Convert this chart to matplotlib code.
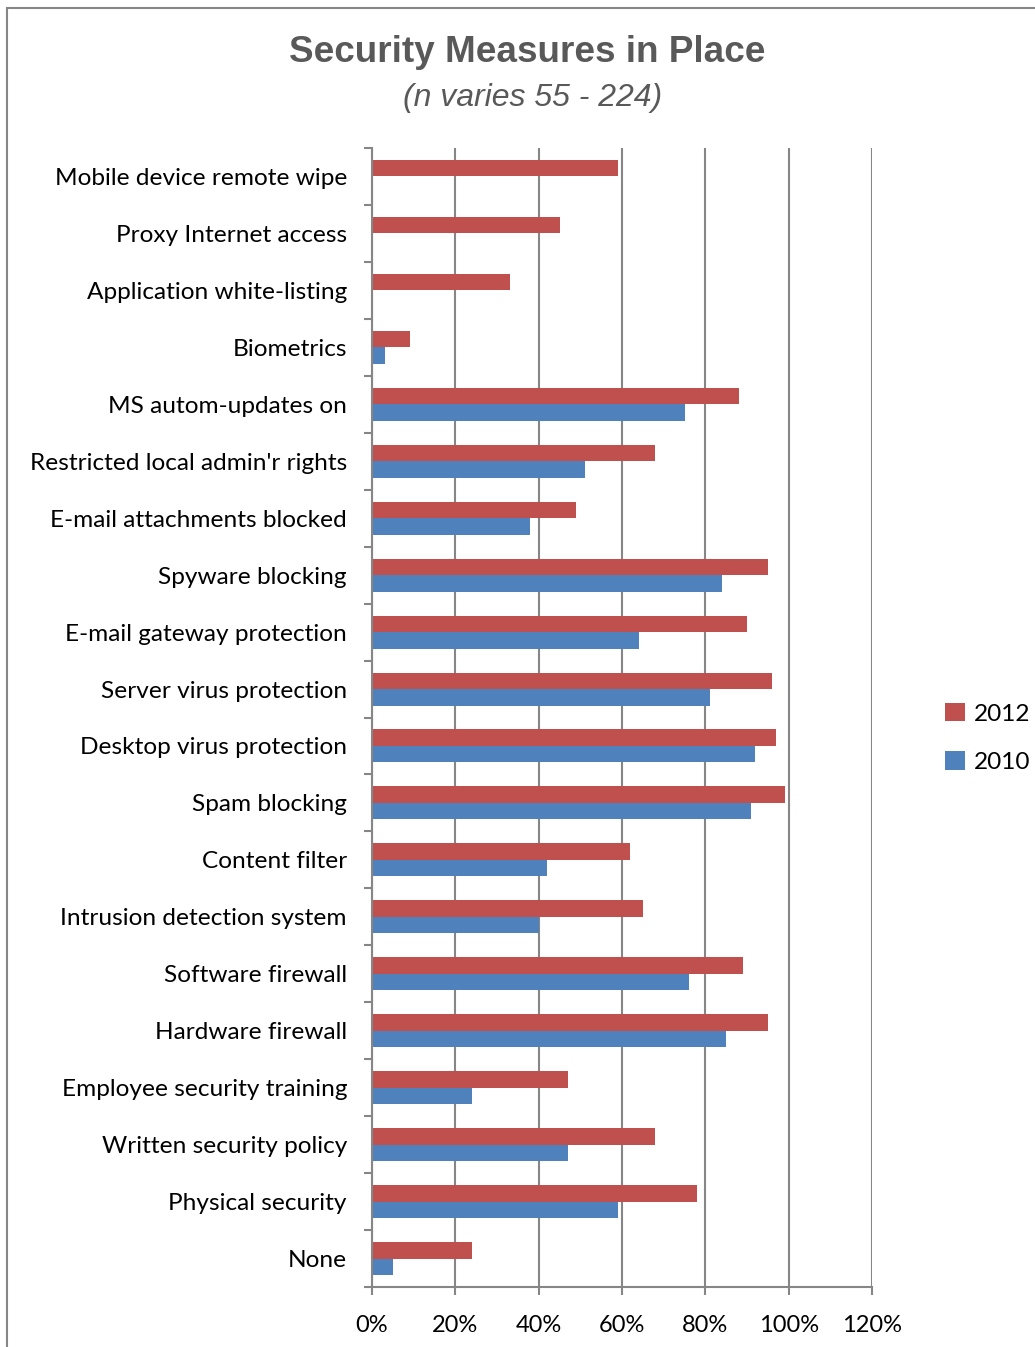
import matplotlib.pyplot as plt
from matplotlib.patches import Rectangle
import numpy as np

categories = ["Mobile device remote wipe", "Proxy Internet access",
              "Application white-listing", "Biometrics", "MS autom-updates on",
              "Restricted local admin'r rights", "E-mail attachments blocked",
              "Spyware blocking", "E-mail gateway protection",
              "Server virus protection", "Desktop virus protection",
              "Spam blocking", "Content filter", "Intrusion detection system",
              "Software firewall", "Hardware firewall",
              "Employee security training", "Written security policy",
              "Physical security", "None"]
values_2012 = [59, 45, 33, 9, 88, 68, 49, 95, 90, 96, 97, 99, 62, 65, 89, 95, 47, 68, 78, 24]
values_2010 = [0, 0, 0, 3, 75, 51, 38, 84, 64, 81, 92, 91, 42, 40, 76, 85, 24, 47, 59, 5]
x_ticks = [0, 20, 40, 60, 80, 100, 120]

RED = '#C0504D'
BLUE = '#4F81BD'
GRID = '#868686'

W, H = 1035, 1347
fig = plt.figure(figsize=(W / 100, H / 100), dpi=100)
ax = fig.add_axes([372 / W, 1 - 1287 / H, 500 / W, (1287 - 148) / H])

n = len(categories)
pos = np.arange(n)[::-1]
bh = 0.29
ax.barh(pos + bh / 2, values_2012, height=bh, color=RED, label='2012', zorder=3)
ax.barh(pos - bh / 2, values_2010, height=bh, color=BLUE, label='2010', zorder=3)

ax.set_xlim(0, 120)
ax.set_ylim(-0.5, n - 0.5)
ax.set_xticks(x_ticks)
ax.set_xticklabels([f"{t}%" for t in x_ticks], fontsize=17, family='Lato')
ax.set_yticks(pos)
ax.set_yticklabels(categories, fontsize=17.6, family='Lato')
ax.set_yticks(np.arange(n + 1) - 0.5, minor=True)
ax.tick_params(axis='y', which='major', length=0, pad=18)
ax.tick_params(axis='y', which='minor', length=6, color=GRID, width=1.5)
ax.tick_params(axis='x', length=6, color=GRID, width=1.5, pad=14)
ax.xaxis.grid(True, color=GRID, linewidth=1.5, zorder=0)
for s in ['top', 'right']:
    ax.spines[s].set_visible(False)
ax.spines['left'].set_color(GRID)
ax.spines['left'].set_linewidth(1.5)
ax.spines['left'].set_zorder(4)
ax.spines['bottom'].set_color(GRID)
ax.spines['bottom'].set_linewidth(1.5)

fig.text(527 / W, 1 - 52 / H, "Security Measures in Place", ha='center', va='center',
         fontsize=26.6, fontweight='bold', color='#595959', family='Liberation Sans')
fig.text(533 / W, 1 - 98 / H, "(n varies 55 - 224)", ha='center', va='center',
         fontsize=23, style='italic', color='#595959', family='Liberation Sans')

leg = fig.legend(loc='center left', bbox_to_anchor=(923 / W, 1 - 738 / H),
                 frameon=False, prop={'family': 'Lato', 'size': 17.6},
                 handlelength=0.8, handleheight=0.8, handletextpad=0.4,
                 labelspacing=1.1)

fig.patches.append(Rectangle((7 / W, -0.1), 1.2, 1 - 8 / H + 0.1,
                             transform=fig.transFigure, fill=False,
                             edgecolor='#868686', linewidth=1.5))

fig.savefig('out.png', dpi=100)
